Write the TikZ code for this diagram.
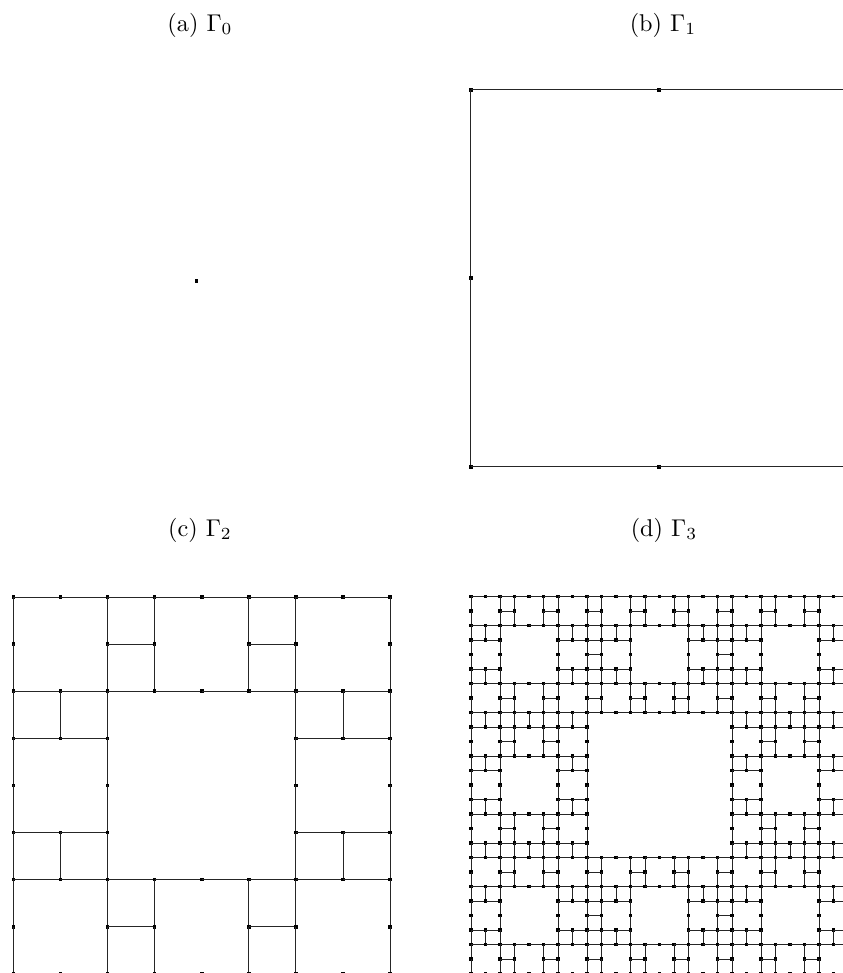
\documentclass[tikz,border=0pt]{standalone}
\usepackage{tikz}

% vertex test for the carpet graph: \inset=1 when no base-3 digit pair is (1,1)
\newcommand\carpetcheck[2]{%
  \pgfmathtruncatemacro\inset{((mod(#1,3)==1 && mod(#2,3)==1) || (mod(floor(#1/3),3)==1 && mod(floor(#2/3),3)==1) || (mod(floor(#1/9),3)==1 && mod(floor(#2/9),3)==1)) ? 0 : 1}%
}
% #1 = last index, #2,#3 = top left corner, #4 = spacing
\newcommand\drawcarpet[4]{%
  \foreach \i in {0,...,#1}{
    \foreach \j in {0,...,#1}{
      \carpetcheck{\i}{\j}
      \ifnum\inset=1
        \fill[vertexdot] (#2+\i*#4-1.8,#3+\j*#4-1.8) rectangle ++(3.6,3.6);
        \ifnum\i<#1
          \pgfmathtruncatemacro\inext{\i+1}\carpetcheck{\inext}{\j}
          \ifnum\inset=1 \draw[edgeline] (#2+\i*#4,#3+\j*#4) -- ++(#4,0);\fi
        \fi
        \ifnum\j<#1
          \pgfmathtruncatemacro\jnext{\j+1}\carpetcheck{\i}{\jnext}
          \ifnum\inset=1 \draw[edgeline] (#2+\i*#4,#3+\j*#4) -- ++(0,#4);\fi
        \fi
      \fi
    }
  }
}

\begin{document}
\begin{tikzpicture}[
  x=0.4125pt,y=-0.4125pt,
  vertexdot/.style={fill=black},
  edgeline/.style={draw=black!85,line width=0.35pt},
  caption/.style={font=\normalsize,inner sep=0pt}
]
\useasboundingbox (0,0) rectangle (843,973);
\clip (0,0) rectangle (843,973);

\node[caption] (capA) at (200,25) {(a) $\Gamma_0$};
\node[caption] (capB) at (663,25) {(b) $\Gamma_1$};
\node[caption] (capC) at (200,530) {(c) $\Gamma_2$};
\node[caption] (capD) at (664,530) {(d) $\Gamma_3$};

\drawcarpet{0}{196.5}{281}{1}
\drawcarpet{2}{470.7}{89.7}{188.5}
\drawcarpet{8}{13.3}{597}{47.1}
\drawcarpet{26}{471}{596.5}{14.5}
\end{tikzpicture}
\end{document}
